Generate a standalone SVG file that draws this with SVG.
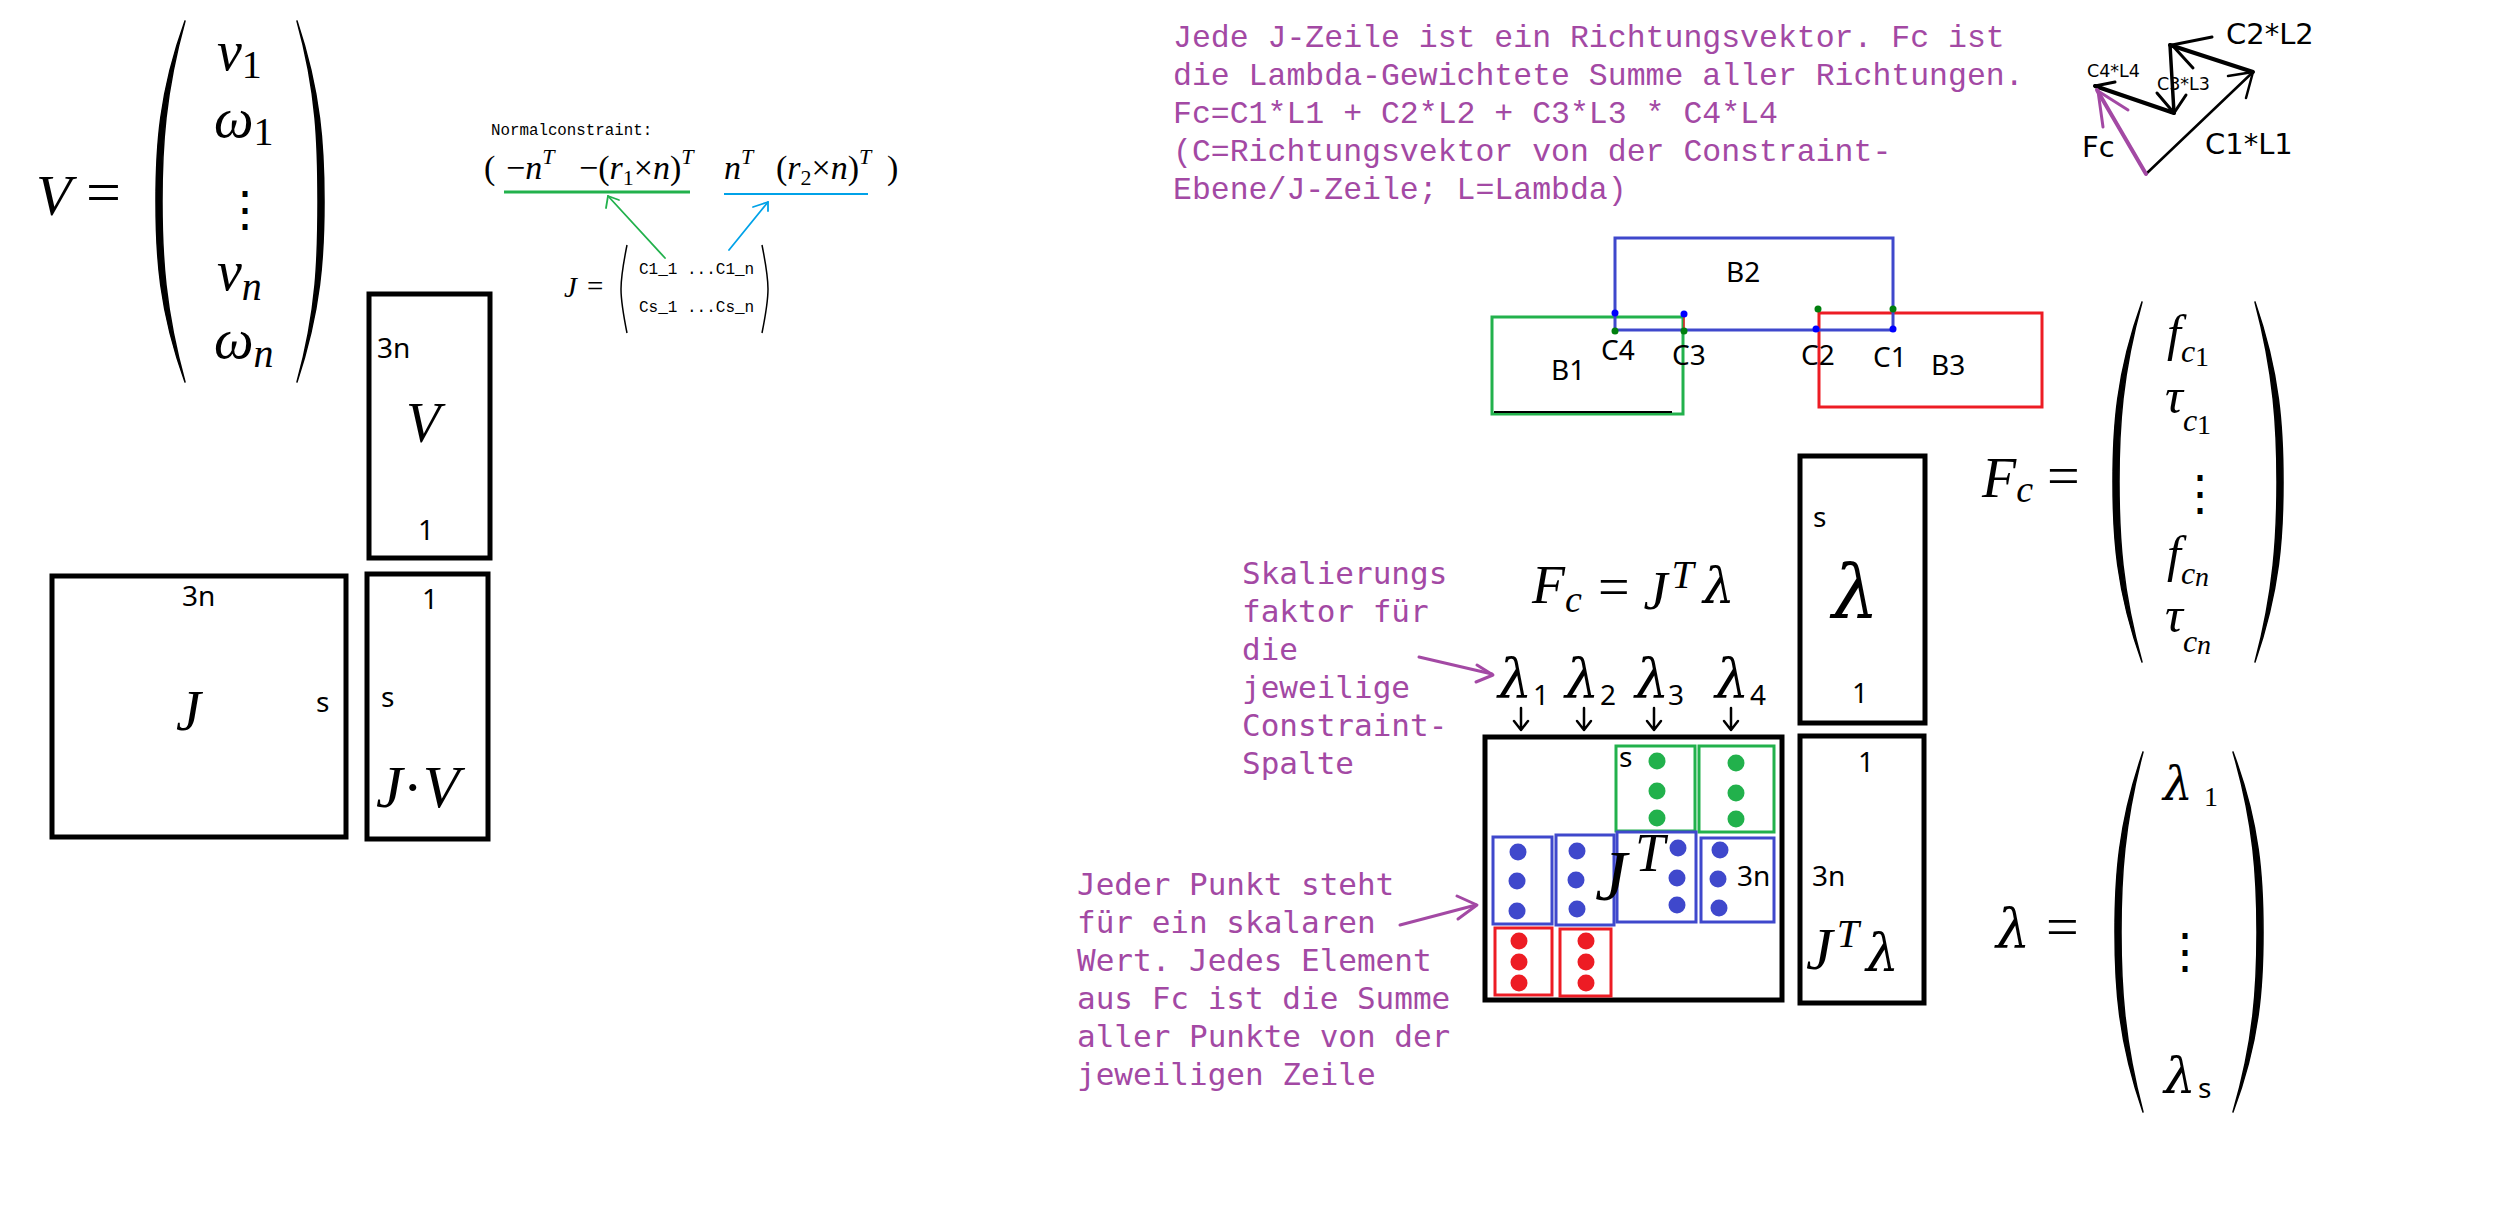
<svg xmlns="http://www.w3.org/2000/svg" width="2510" height="1213" viewBox="0 0 2510 1213">
<style>
.box{fill:none;stroke:#000;stroke-width:5}
.m{font-family:"Liberation Serif","Times New Roman",serif;font-style:italic;fill:#000}
.lam{font-family:"DejaVu Serif","Liberation Serif",serif;font-style:italic;fill:#000}
.u{font-style:normal}
.lab{font-family:"Noto Sans","DejaVu Sans",sans-serif;font-size:28px;fill:#000}
.vl{font-family:"DejaVu Sans","Noto Sans",sans-serif;fill:#000}
.pt{font-family:"Liberation Mono","DejaVu Sans Mono",monospace;font-size:31.5px;fill:#A349A4}
.pn{font-family:"DejaVu Sans Mono","Liberation Mono",monospace;font-size:31px;fill:#A349A4}
.mono{font-family:"Liberation Mono","DejaVu Sans Mono",monospace;fill:#000}
.par{fill:#000;stroke:#000;stroke-width:1.5;stroke-linejoin:round}
.thin{fill:none;stroke:#000;stroke-width:1.5}
.vd{font-family:"DejaVu Serif",serif;fill:#000}
.ln{fill:none;stroke-linecap:round;stroke-linejoin:round}
.gbox{fill:none;stroke:#22B14C;stroke-width:3}
.bbox{fill:none;stroke:#3F48CC;stroke-width:3}
.rbox{fill:none;stroke:#ED1C24;stroke-width:3}
.gd{fill:#22B14C}.bd{fill:#3F48CC}.rd{fill:#ED1C24}
</style>

<!-- V vector -->
<g id="v-vector">
<text class="m" x="36" y="215" font-size="58">V</text>
<text class="m u" x="86" y="213" font-size="62">=</text>
<path class="par" d="M185,21 C159,93 156,147 156,201.5 C156,256 159,310 185,382 C165,310 162,256 162,201.5 C162,147 165,93 185,21 Z"/>
<path class="par" d="M297,21 C321,93 324,147 324,201.5 C324,256 321,310 297,382 C317,310 318,256 318,201.5 C318,147 317,93 297,21 Z"/>
<text class="m" x="217" y="70" font-size="56">v<tspan class="u" font-size="40" dy="8">1</tspan></text>
<text class="m" x="214" y="137" font-size="56">ω<tspan class="u" font-size="40" dy="8">1</tspan></text>
<text class="vd" x="221" y="226" font-size="48">⋮</text>
<text class="m" x="217" y="290" font-size="56">v<tspan font-size="40" dy="10">n</tspan></text>
<text class="m" x="214" y="358" font-size="56">ω<tspan font-size="40" dy="9">n</tspan></text>
</g>

<!-- Normalconstraint -->
<g id="normalconstraint">
<text class="mono" x="491" y="135" font-size="15.8">Normalconstraint:</text>
<text class="m u" x="484" y="179" font-size="34">(</text>
<text class="m" x="506" y="179" font-size="34"><tspan class="u">−</tspan>n<tspan font-size="22" dy="-15">T</tspan></text>
<text class="m" x="579" y="179" font-size="34"><tspan class="u">−(</tspan>r<tspan class="u" font-size="22" dy="6">1</tspan><tspan class="u" dy="-6">×</tspan>n<tspan class="u">)</tspan><tspan font-size="22" dy="-15">T</tspan></text>
<text class="m" x="724" y="179" font-size="34">n<tspan font-size="22" dy="-15">T</tspan></text>
<text class="m" x="776" y="179" font-size="34"><tspan class="u">(</tspan>r<tspan class="u" font-size="22" dy="6">2</tspan><tspan class="u" dy="-6">×</tspan>n<tspan class="u">)</tspan><tspan font-size="22" dy="-15">T</tspan></text>
<text class="m u" x="887" y="179" font-size="34">)</text>
<line x1="504" y1="192" x2="690" y2="192" stroke="#22B14C" stroke-width="3"/>
<line x1="724" y1="194" x2="868" y2="194" stroke="#00A2E8" stroke-width="2"/>
</g>

<!-- J = matrix -->
<g id="j-matrix">
<text class="m" x="564" y="297" font-size="29">J</text>
<text class="m u" x="587" y="296" font-size="29">=</text>
<path class="thin" d="M627,245 C622,270 621,280 621,289 C621,298 622,308 627,333"/>
<path class="thin" d="M762,245 C767,270 768,280 768,289 C768,298 767,308 762,333"/>
<text class="mono" x="639" y="274" font-size="16">C1_1 ...C1_n</text>
<text class="mono" x="639" y="312" font-size="16">Cs_1 ...Cs_n</text>
</g>

<!-- V box -->
<g id="v-box">
<rect class="box" x="369" y="294" width="121" height="264"/>
<text class="lab" x="377" y="358">3n</text>
<text class="m" x="406" y="442" font-size="56">V</text>
<text class="lab" x="418" y="540">1</text>
</g>

<!-- J box -->
<g id="j-box">
<rect class="box" x="52" y="576" width="294" height="261"/>
<text class="lab" x="182" y="606">3n</text>
<text class="m" x="176" y="730" font-size="56">J</text>
<text class="lab" x="316" y="712">s</text>
</g>

<!-- J.V box -->
<g id="jv-box">
<rect class="box" x="367" y="574" width="121" height="265"/>
<text class="lab" x="422" y="609">1</text>
<text class="lab" x="381" y="707">s</text>
<text class="m" x="376" y="807" font-size="60">J<tspan class="u">·</tspan>V</text>
</g>

<!-- top purple description -->
<g id="description">
<text class="pt" x="1173" y="47">Jede J-Zeile ist ein Richtungsvektor. Fc ist</text>
<text class="pt" x="1173" y="85">die Lambda-Gewichtete Summe aller Richtungen.</text>
<text class="pt" x="1173" y="123">Fc=C1*L1 + C2*L2 + C3*L3 * C4*L4</text>
<text class="pt" x="1173" y="161">(C=Richtungsvektor von der Constraint-</text>
<text class="pt" x="1173" y="199">Ebene/J-Zeile; L=Lambda)</text>
</g>

<!-- vector sum sketch -->
<g id="vector-sketch">
<g class="ln" stroke="#000">
<path d="M2146,174 L2253,72" stroke-width="2.5"/>
<path d="M2228,76 L2253,72 L2246,98" stroke-width="2.5"/>
<path d="M2253,72 L2170,45" stroke-width="4"/>
<path d="M2212,37 L2172,45 L2193,68" stroke-width="3"/>
<path d="M2170,45 L2174,113" stroke-width="3.5"/>
<path d="M2157,93 L2174,113 L2186,95" stroke-width="3"/>
<path d="M2174,113 L2095,86" stroke-width="4"/>
<path d="M2115,82 L2095,86" stroke-width="3"/>
</g>
<g class="ln" stroke="#A349A4">
<path d="M2146,174 L2097,90" stroke-width="4"/>
<path d="M2103,127 L2098,91 L2128,110" stroke-width="3"/>
</g>
<text class="vl" x="2226" y="44" font-size="29">C2*L2</text>
<text class="vl" x="2087" y="77" font-size="17.5">C4*L4</text>
<text class="vl" x="2157" y="90" font-size="17.5">C3*L3</text>
<text class="vl" x="2082" y="157" font-size="29" fill="#A349A4">Fc</text>
<text class="vl" x="2205" y="154" font-size="29">C1*L1</text>
</g>

<!-- bodies -->
<g id="body-B1">
<rect class="gbox" x="1492" y="317" width="191" height="97"/>
<line x1="1494" y1="412" x2="1672" y2="412" stroke="#000" stroke-width="2"/>
<text class="lab" x="1551" y="380">B1</text>
</g>
<g id="body-B3">
<rect class="rbox" x="1819" y="313" width="223" height="94"/>
<text class="lab" x="1931" y="375">B3</text>
</g>
<g id="body-B2">
<rect class="bbox" x="1615" y="238" width="278" height="92"/>
<line x1="1684" y1="313" x2="1684" y2="330" stroke="#ED1C24" stroke-width="1.5"/>
<text class="lab" x="1726" y="282">B2</text>
</g>
<g id="contacts">
<circle cx="1615" cy="313" r="3.5" fill="#0000FF"/>
<circle cx="1684" cy="314" r="3.5" fill="#0000FF"/>
<circle cx="1816" cy="329" r="3.5" fill="#0000FF"/>
<circle cx="1893" cy="329" r="3.5" fill="#0000FF"/>
<circle cx="1615" cy="331" r="3.5" fill="#007F0E"/>
<circle cx="1684" cy="331" r="3.5" fill="#007F0E"/>
<circle cx="1818" cy="309" r="3.5" fill="#007F0E"/>
<circle cx="1893" cy="309" r="3.5" fill="#007F0E"/>
<text class="lab" x="1601" y="360">C4</text>
<text class="lab" x="1672" y="365">C3</text>
<text class="lab" x="1801" y="365">C2</text>
<text class="lab" x="1873" y="367">C1</text>
</g>

<!-- Fc vector -->
<g id="fc-vector">
<text class="m" x="1982" y="497" font-size="56">F<tspan font-size="38" dy="5">c</tspan><tspan class="u" font-size="58" dx="14" dy="-7">=</tspan></text>
<path class="par" d="M2142,302 C2116,374 2113,428 2113,482 C2113,536 2116,590 2142,662 C2122,590 2119,536 2119,482 C2119,428 2122,374 2142,302 Z"/>
<path class="par" d="M2255,302 C2280,374 2283,428 2283,482 C2283,536 2280,590 2255,662 C2274,590 2277,536 2277,482 C2277,428 2274,374 2255,302 Z"/>
<text class="m" x="2167" y="350" font-size="50">f<tspan font-size="32" dy="12">c</tspan><tspan class="u" font-size="28" dy="4">1</tspan></text>
<text class="m" x="2165" y="413" font-size="50">τ<tspan font-size="32" dy="18">c</tspan><tspan class="u" font-size="28" dy="3">1</tspan></text>
<text class="vd" x="2176" y="510" font-size="48">⋮</text>
<text class="m" x="2167" y="571" font-size="50">f<tspan font-size="32" dy="13">c</tspan><tspan font-size="28" dy="2">n</tspan></text>
<text class="m" x="2165" y="632" font-size="50">τ<tspan font-size="32" dy="20">c</tspan><tspan font-size="28" dy="2">n</tspan></text>
</g>

<!-- lambda vector -->
<g id="lambda-vector">
<text class="lam" x="1996" y="947" font-size="54">λ</text>
<text class="m u" x="2046" y="946" font-size="58">=</text>
<path class="par" d="M2143,752 C2118,824 2115,878 2115,932 C2115,986 2118,1040 2143,1112 C2124,1040 2121,986 2121,932 C2121,878 2124,824 2143,752 Z"/>
<path class="par" d="M2233,752 C2260,824 2263,878 2263,932 C2263,986 2260,1040 2233,1112 C2254,1040 2257,986 2257,932 C2257,878 2254,824 2233,752 Z"/>
<text class="lam" x="2163" y="800" font-size="47">λ</text>
<text class="m u" x="2204" y="806" font-size="28">1</text>
<text class="vd" x="2161" y="968" font-size="48">⋮</text>
<text class="lam" x="2164" y="1093" font-size="50">λ</text>
<text class="lab" x="2198" y="1098" font-size="30">s</text>
</g>

<!-- Fc = J^T lambda -->
<g id="fc-equation">
<text class="m" x="1532" y="603" font-size="54">F<tspan font-size="38" dy="9">c</tspan><tspan class="u" font-size="56" dx="16" dy="-6">=</tspan><tspan dx="14" dy="3">J</tspan><tspan font-size="40" dx="4" dy="-21">T</tspan></text>
<text class="lam" x="1703" y="603" font-size="50">λ</text>
</g>

<!-- lambda column labels -->
<g id="lambda-labels">
<text class="lam" x="1498" y="697" font-size="54">λ</text><text class="lab" x="1533" y="705" font-size="26">1</text>
<text class="lam" x="1565" y="697" font-size="54">λ</text><text class="lab" x="1600" y="705" font-size="26">2</text>
<text class="lam" x="1635" y="697" font-size="54">λ</text><text class="lab" x="1668" y="705" font-size="26">3</text>
<text class="lam" x="1715" y="697" font-size="54">λ</text><text class="lab" x="1750" y="705" font-size="26">4</text>
</g>

<!-- J^T matrix -->
<g id="jt-box">
<rect class="box" x="1485" y="737" width="297" height="263"/>
<rect class="gbox" x="1616" y="746" width="79" height="85"/>
<rect class="gbox" x="1699" y="746" width="75" height="86"/>
<rect class="bbox" x="1493" y="837" width="59" height="87"/>
<rect class="bbox" x="1556" y="835" width="58" height="90"/>
<rect class="bbox" x="1617" y="832" width="79" height="90"/>
<rect class="bbox" x="1701" y="838" width="73" height="84"/>
<rect class="rbox" x="1495" y="928" width="57" height="67"/>
<rect class="rbox" x="1560" y="929" width="51" height="67"/>
<circle class="gd" cx="1657" cy="761" r="8.5"/><circle class="gd" cx="1657" cy="791" r="8.5"/><circle class="gd" cx="1657" cy="818" r="8.5"/>
<circle class="gd" cx="1736" cy="763" r="8.5"/><circle class="gd" cx="1736" cy="793" r="8.5"/><circle class="gd" cx="1736" cy="819" r="8.5"/>
<circle class="bd" cx="1518" cy="852" r="8.5"/><circle class="bd" cx="1517" cy="881" r="8.5"/><circle class="bd" cx="1517" cy="911" r="8.5"/>
<circle class="bd" cx="1577" cy="851" r="8.5"/><circle class="bd" cx="1576" cy="880" r="8.5"/><circle class="bd" cx="1577" cy="909" r="8.5"/>
<circle class="bd" cx="1678" cy="848" r="8.5"/><circle class="bd" cx="1677" cy="878" r="8.5"/><circle class="bd" cx="1677" cy="905" r="8.5"/>
<circle class="bd" cx="1720" cy="850" r="8.5"/><circle class="bd" cx="1718" cy="879" r="8.5"/><circle class="bd" cx="1719" cy="908" r="8.5"/>
<circle class="rd" cx="1519" cy="941" r="8.5"/><circle class="rd" cx="1519" cy="962" r="8.5"/><circle class="rd" cx="1519" cy="983" r="8.5"/>
<circle class="rd" cx="1586" cy="941" r="8.5"/><circle class="rd" cx="1586" cy="962" r="8.5"/><circle class="rd" cx="1586" cy="983" r="8.5"/>
<text class="lab" x="1619" y="767">s</text>
<text class="lab" x="1737" y="886">3n</text>
<text class="m" x="1595" y="900" font-size="72">J<tspan font-size="54" dx="8" dy="-29">T</tspan></text>
</g>

<!-- lambda box -->
<g id="lambda-box">
<rect class="box" x="1800" y="456" width="125" height="267"/>
<text class="lab" x="1813" y="527">s</text>
<text class="lam" x="1832" y="618" font-size="74">λ</text>
<text class="lab" x="1852" y="703">1</text>
</g>

<!-- J^T lambda box -->
<g id="jtl-box">
<rect class="box" x="1800" y="736" width="124" height="267"/>
<text class="lab" x="1858" y="772">1</text>
<text class="lab" x="1812" y="886">3n</text>
<text class="m" x="1806" y="969" font-size="60">J<tspan font-size="40" dx="4" dy="-22">T</tspan></text>
<text class="lam" x="1866" y="971" font-size="52">λ</text>
</g>

<!-- notes -->
<g id="note-scaling">
<text class="pn" x="1242" y="584">Skalierungs</text>
<text class="pn" x="1242" y="622">faktor für</text>
<text class="pn" x="1242" y="660">die</text>
<text class="pn" x="1242" y="698">jeweilige</text>
<text class="pn" x="1242" y="736">Constraint-</text>
<text class="pn" x="1242" y="774">Spalte</text>
</g>
<g id="note-points">
<text class="pn" x="1077" y="895">Jeder Punkt steht</text>
<text class="pn" x="1077" y="933">für ein skalaren</text>
<text class="pn" x="1077" y="971">Wert. Jedes Element</text>
<text class="pn" x="1077" y="1009">aus Fc ist die Summe</text>
<text class="pn" x="1077" y="1047">aller Punkte von der</text>
<text class="pn" x="1077" y="1085">jeweiligen Zeile</text>
</g>

<!-- connectors -->
<g id="connectors" class="ln">
<g stroke="#22B14C" stroke-width="1.8">
<path d="M665,258 L608,196"/>
<path d="M606,208 L608,196 L619,200"/>
</g>
<g stroke="#00A2E8" stroke-width="1.8">
<path d="M729,250 L768,202"/>
<path d="M753,207 L768,202 L768,211"/>
</g>
<g stroke="#A349A4" stroke-width="3">
<path d="M1419,657 L1492,674"/>
<path d="M1477,665 L1493,675 L1476,682"/>
<path d="M1400,925 L1476,905"/>
<path d="M1457,896 L1477,905 L1458,919"/>
</g>
<g stroke="#000" stroke-width="2.5">
<path d="M1521,708 L1521,730 M1514,721 L1521,730 L1528,721"/>
<path d="M1584,708 L1584,730 M1577,721 L1584,730 L1591,721"/>
<path d="M1654,708 L1654,730 M1647,721 L1654,730 L1661,721"/>
<path d="M1731,708 L1731,730 M1724,721 L1731,730 L1738,721"/>
</g>
</g>
</svg>
